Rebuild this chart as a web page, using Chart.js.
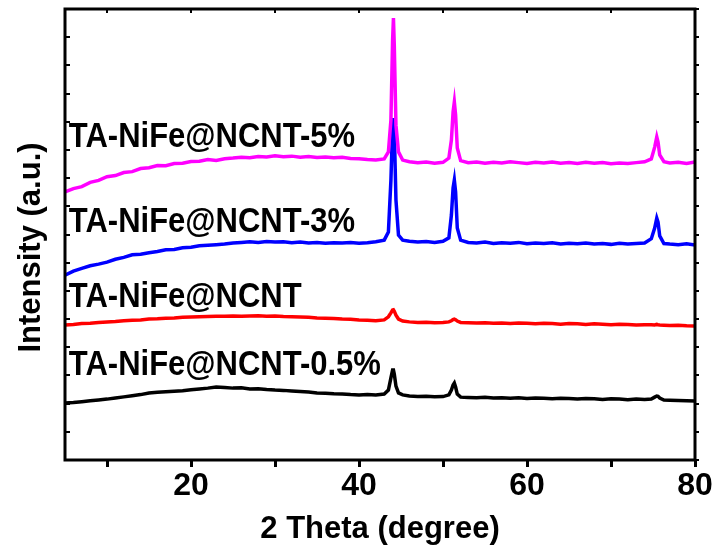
<!DOCTYPE html>
<html><head><meta charset="utf-8">
<script src="https://cdn.jsdelivr.net/npm/chart.js@4.4.1/dist/chart.umd.min.js"></script>
<style>html,body{margin:0;padding:0;background:#fff;}canvas{display:block;}</style>
</head><body>
<canvas id="c" width="718" height="552"></canvas>
<script>
// 2θ positions (degree)
const twoTheta = [
  5,6,7,8,9,10,11,12,13,14,15,16,17,18,19,20,21,22,23,24,25,26,27,28,29,30,31,32,33,34,35,36,37,38,39,40,41,42,
  43,43.5,43.8,44.0,44.1,44.2,44.4,44.7,45.2,
  46,47,48,49,50,
  50.7,51.0,51.2,51.35,51.5,51.7,52.1,
  53,54,55,56,57,58,59,60,61,62,63,64,65,66,67,68,69,70,71,72,73,74,
  74.8,75.2,75.45,75.6,75.8,76.3,
  77,78,79,80
];
// Intensity (a.u., offset traces)
const intensity5pct = [
  9.51,9.63,9.70,9.85,9.92,10.05,10.09,10.20,10.23,10.34,10.37,10.45,10.44,10.52,10.53,10.59,10.60,10.66,10.63,10.69,10.71,10.74,10.72,10.77,10.75,10.79,10.76,10.78,10.74,10.77,10.73,10.75,10.72,10.74,10.70,10.69,10.66,10.64,
  10.68,10.93,12.06,14.90,15.68,14.72,11.88,10.93,10.64,
  10.58,10.55,10.57,10.53,10.56,
  10.71,11.35,12.35,12.70,12.24,11.07,10.62,
  10.55,10.57,10.53,10.56,10.54,10.58,10.55,10.52,10.56,10.54,10.57,10.53,10.55,10.52,10.56,10.53,10.55,10.51,10.54,10.52,10.55,10.58,
  10.68,11.10,11.46,11.28,10.82,10.58,
  10.54,10.56,10.52,10.57
];
const intensity3pct = [
  6.56,6.70,6.80,6.89,6.95,7.02,7.12,7.19,7.28,7.30,7.35,7.40,7.46,7.47,7.53,7.55,7.60,7.62,7.64,7.66,7.70,7.72,7.74,7.72,7.75,7.73,7.74,7.71,7.73,7.70,7.72,7.69,7.71,7.70,7.72,7.69,7.71,7.74,
  7.80,8.09,9.93,11.88,12.13,11.71,9.22,7.98,7.80,
  7.76,7.73,7.75,7.72,7.76,
  7.88,8.69,9.65,9.93,9.51,8.23,7.80,
  7.72,7.70,7.73,7.68,7.71,7.69,7.72,7.67,7.70,7.68,7.71,7.66,7.69,7.67,7.70,7.66,7.68,7.65,7.69,7.66,7.68,7.70,
  7.85,8.23,8.58,8.44,7.95,7.68,
  7.66,7.64,7.67,7.63
];
const intensityPure = [
  4.79,4.81,4.84,4.85,4.88,4.90,4.91,4.94,4.96,4.97,5.00,5.01,5.03,5.04,5.06,5.07,5.08,5.09,5.10,5.10,5.11,5.10,5.11,5.12,5.10,5.11,5.09,5.08,5.07,5.06,5.04,5.03,5.02,5.00,4.99,4.97,4.96,4.94,
  4.97,5.08,5.22,5.32,5.33,5.28,5.14,5.00,4.93,
  4.90,4.88,4.89,4.87,4.88,
  4.90,4.94,4.98,5.00,4.98,4.93,4.88,
  4.87,4.86,4.87,4.85,4.86,4.84,4.86,4.85,4.83,4.85,4.84,4.82,4.84,4.83,4.81,4.83,4.82,4.80,4.82,4.81,4.79,4.80,
  4.80,4.79,4.81,4.80,4.79,4.78,
  4.77,4.78,4.76,4.75
];
const intensity05pct = [
  2.02,2.04,2.07,2.10,2.13,2.16,2.20,2.24,2.28,2.32,2.38,2.40,2.42,2.44,2.46,2.49,2.52,2.55,2.59,2.57,2.55,2.56,2.52,2.53,2.50,2.48,2.47,2.45,2.43,2.41,2.38,2.37,2.35,2.34,2.32,2.31,2.32,2.31,
  2.34,2.48,2.91,3.19,3.19,3.05,2.62,2.38,2.31,
  2.27,2.25,2.26,2.24,2.25,
  2.31,2.48,2.66,2.73,2.59,2.34,2.23,
  2.22,2.21,2.23,2.20,2.21,2.19,2.21,2.18,2.20,2.19,2.17,2.19,2.18,2.16,2.18,2.17,2.15,2.17,2.16,2.14,2.16,2.15,
  2.16,2.23,2.27,2.26,2.20,2.13,
  2.12,2.11,2.10,2.09
];
const seriesNames = ['TA-NiFe@NCNT-5%','TA-NiFe@NCNT-3%','TA-NiFe@NCNT','TA-NiFe@NCNT-0.5%'];
const xTickValues = [10,20,30,40,50,60,70,80];
const xTickLabels = ['','20','','40','','60','','80'];
const yTickValues = [0,1,2,3,4,5,6,7,8,9,10,11,12,13,14,15,16];

const FONT = "'Liberation Sans', Arial, Helvetica, sans-serif";
const labelAnchors = [ {x:5.45, y:11.1}, {x:5.45, y:8.09}, {x:5.45, y:5.43}, {x:5.45, y:3.02} ];

function pts(ys){ return twoTheta.map((t,i)=>({x:t, y:ys[i]})); }

const framePlugin = {
  id:'frame',
  afterDatasetsDraw(chart){
    const {ctx, chartArea:a, scales:{x, y}} = chart;
    ctx.save();
    ctx.strokeStyle = '#000';
    ctx.lineWidth = 3;
    ctx.strokeRect(a.left, a.top, a.right - a.left, a.bottom - a.top);
    ctx.lineWidth = 2;
    ctx.beginPath();
    yTickValues.forEach(v => {
      const py = Math.round(y.getPixelForValue(v));
      ctx.moveTo(a.left, py); ctx.lineTo(a.left + 5, py);
      ctx.moveTo(a.right, py); ctx.lineTo(a.right + 4, py);
    });
    xTickValues.forEach(v => {
      const px = Math.round(x.getPixelForValue(v));
      ctx.moveTo(px, a.top); ctx.lineTo(px, a.top + 4);
    });
    ctx.stroke();
    ctx.fillStyle = '#000';
    ctx.font = 'bold 31px ' + FONT;
    ctx.textAlign = 'left';
    ctx.textBaseline = 'alphabetic';
    seriesNames.forEach((n, i) => {
      const px = x.getPixelForValue(labelAnchors[i].x);
      const py = y.getPixelForValue(labelAnchors[i].y);
      ctx.save();
      ctx.translate(px, py);
      ctx.scale(1, 1.15);
      ctx.fillText(n, 0, 0);
      ctx.restore();
    });
    ctx.translate(31, (a.top + a.bottom) / 2 + 13);
    ctx.rotate(-Math.PI / 2);
    ctx.textAlign = 'center';
    ctx.textBaseline = 'middle';
    ctx.font = 'bold 31px ' + FONT;
    ctx.fillText('Intensity (a.u.)', 0, 0);
    ctx.restore();
  }
};

const mk = (label, ys, color) => ({
  label, data: pts(ys), borderColor: color, backgroundColor: color,
  borderWidth: 3.5, pointRadius: 0, tension: 0, fill: false
});

new Chart(document.getElementById('c'), {
  type: 'line',
  data: { datasets: [
    mk(seriesNames[0], intensity5pct, '#FF00FF'),
    mk(seriesNames[1], intensity3pct, '#0000FF'),
    mk(seriesNames[2], intensityPure, '#FF0000'),
    mk(seriesNames[3], intensity05pct, '#000000')
  ]},
  options: {
    responsive: false, animation: false, devicePixelRatio: 1,
    layout: { padding: { top: 9, right: 23, left: 0, bottom: 0 } },
    plugins: { legend: { display: false }, tooltip: { enabled: false } },
    scales: {
      x: {
        type: 'linear', min: 5, max: 80,
        afterBuildTicks: s => { s.ticks = xTickValues.map(v => ({value: v})); },
        afterFit: s => { s.height = 92; },
        ticks: {
          autoSkip: false, maxRotation: 0, padding: 0, color: '#000',
          font: { family: FONT, size: 32, weight: 'bold' },
          callback: (v) => xTickLabels[xTickValues.indexOf(v)]
        },
        grid: { display: true, drawOnChartArea: false, drawTicks: true, tickLength: 7, lineWidth: 3, color: '#000' },
        border: { display: false },
        title: { display: true, text: '2 Theta (degree)', color: '#000',
          font: { family: FONT, size: 31, weight: 'bold' }, padding: { top: 0, bottom: 4 } }
      },
      y: {
        type: 'linear', min: 0, max: 16,
        afterFit: s => { s.width = 65; },
        ticks: { display: false },
        grid: { display: false },
        border: { display: false }
      }
    }
  },
  plugins: [framePlugin]
});
</script>
</body></html>
